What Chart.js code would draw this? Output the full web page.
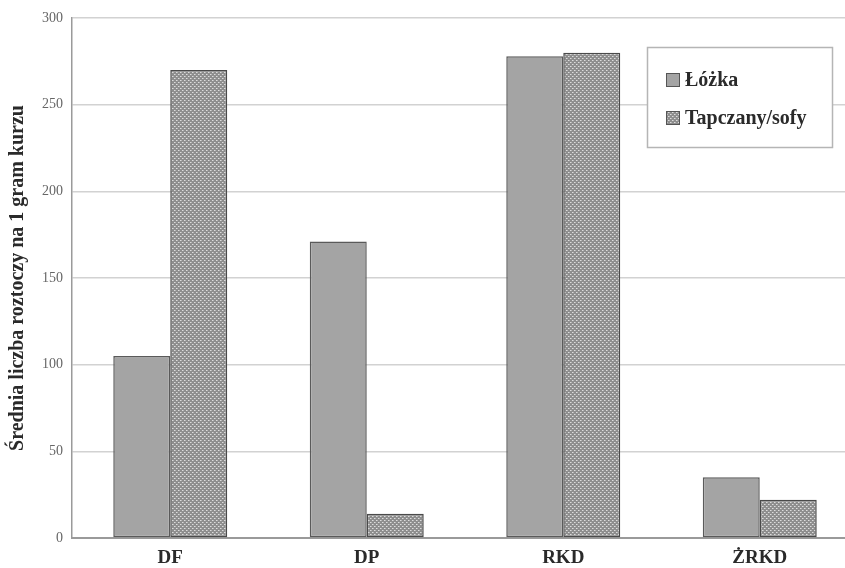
<!DOCTYPE html>
<html>
<head>
<meta charset="utf-8">
<script src="https://cdn.jsdelivr.net/npm/chart.js@4.4.0/dist/chart.umd.min.js"></script>
<style>
  html, body { margin: 0; padding: 0; background: #fff; overflow: hidden; }
  #wrap { position: relative; width: 858px; height: 568px; }
</style>
</head>
<body>
<div id="wrap"><canvas id="chart"></canvas></div>
<script>
// dane
var kategorie = ['DF', 'DP', 'RKD', 'ŻRKD'];
var lozka     = [105, 171, 278, 35];
var tapczany  = [270, 14, 280, 22];
var serie     = ['Łóżka', 'Tapczany/sofy'];
var yTicks    = [0, 50, 100, 150, 200, 250, 300];

var serif = "'Liberation Serif','Times New Roman',serif";

// wzór kropkowany dla tapczanów
function makePattern() {
  var c = document.createElement('canvas');
  c.width = 4; c.height = 4;
  var x = c.getContext('2d');
  x.fillStyle = '#8e8e8e';
  x.fillRect(0, 0, 4, 4);
  x.fillStyle = '#dcdcdc';
  x.fillRect(0, 0, 1, 1);
  x.fillRect(2, 2, 1, 1);
  x.fillStyle = '#b8b8b8';
  x.fillRect(1, 0, 1, 1);
  x.fillRect(3, 2, 1, 1);
  return x.createPattern(c, 'repeat');
}
var wzor = makePattern();
var szary = '#a4a4a4';

// legenda w ramce (prawy górny róg)
var boxLegend = {
  id: 'boxLegend',
  afterDraw: function(chart) {
    var ctx = chart.ctx;
    ctx.save();
    ctx.fillStyle = '#fff';
    ctx.fillRect(647, 47, 185, 100);
    ctx.strokeStyle = '#b5b5b5';
    ctx.lineWidth = 1.5;
    ctx.strokeRect(647.5, 47.5, 185, 100);
    var ys = [80, 118];
    var fills = [szary, wzor];
    for (var i = 0; i < serie.length; i++) {
      ctx.fillStyle = fills[i];
      ctx.fillRect(666, ys[i] - 7, 14, 14);
      ctx.strokeStyle = '#555';
      ctx.lineWidth = 1;
      ctx.strokeRect(666.5, ys[i] - 6.5, 13, 13);
      ctx.fillStyle = '#2a2a2a';
      ctx.font = 'bold 20px ' + serif;
      ctx.textBaseline = 'middle';
      ctx.textAlign = 'left';
      ctx.fillText(serie[i], 685, ys[i] + 1);
    }
    ctx.restore();
  }
};

new Chart(document.getElementById('chart'), {
  type: 'bar',
  data: {
    labels: kategorie,
    datasets: [
      { label: serie[0], data: lozka, backgroundColor: szary, borderColor: '#5a5a5a', borderWidth: 1.5, borderSkipped: false },
      { label: serie[1], data: tapczany, backgroundColor: wzor, borderColor: '#4a4a4a', borderWidth: 1.5, borderSkipped: false }
    ]
  },
  options: {
    responsive: true,
    maintainAspectRatio: false,
    animation: false,
    datasets: { bar: { barPercentage: 1.0, categoryPercentage: 0.58 } },
    layout: { padding: { top: 18, right: 0, left: 0, bottom: 0 } },
    plugins: {
      legend: { display: false },
      tooltip: { enabled: false }
    },
    scales: {
      x: {
        grid: { display: false, drawTicks: false },
        border: { color: '#9a9a9a', width: 2 },
        ticks: { color: '#2a2a2a', font: { family: serif, size: 19, weight: 'bold' }, padding: 9 },
        afterFit: function(s) { s.height = 30; }
      },
      y: {
        min: 0, max: 300,
        afterBuildTicks: function(s) { s.ticks = yTicks.map(function(v) { return { value: v }; }); },
        grid: { color: '#d2d2d2', lineWidth: 1.5, drawTicks: false },
        border: { color: '#9a9a9a', width: 1.5 },
        ticks: { color: '#666', font: { family: serif, size: 14 }, padding: 9 },
        title: {
          display: true,
          text: 'Średnia liczba roztoczy na 1 gram kurzu',
          color: '#2a2a2a',
          font: { family: serif, size: 20, weight: 'bold' },
          padding: { top: 6, bottom: 4 }
        },
        afterFit: function(s) { s.width = 72; }
      }
    }
  },
  plugins: [boxLegend]
});
</script>
</body>
</html>
